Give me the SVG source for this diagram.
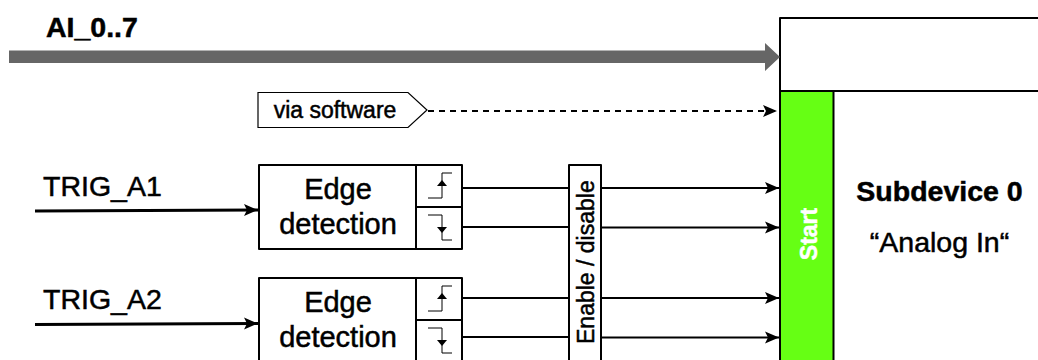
<svg xmlns="http://www.w3.org/2000/svg" width="1038" height="360" viewBox="0 0 1038 360">
<style>
text{font-family:"Liberation Sans",Arial,sans-serif;fill:#000;stroke:#000;stroke-width:.5}
.box{fill:#fff;stroke:#000;stroke-width:2;stroke-linejoin:round}
.wire{fill:none;stroke:#000;stroke-width:2}
.thick{stroke-width:3}
.thin{fill:none;stroke:#000;stroke-width:1}
.lbl{font-size:29px;text-anchor:middle}
</style>
<defs>
<marker id="ah" markerUnits="userSpaceOnUse" markerWidth="16" markerHeight="14" refX="14" refY="7" orient="auto"><path d="M0,1 L14,7 L0,13 L3,7 Z" fill="#000"/></marker>
<g id="rise"><path class="thin" d="M-14,10 H0 V-15 H10"/><path d="M-5,-2 L0,-8 L5,-2 Z" fill="#000"/></g>
<g id="fall"><path class="thin" d="M-14,-12 H0 V13 H10"/><path d="M-5,0 L0,6 L5,0 Z" fill="#000"/></g>
</defs>
<g id="subdevice">
<rect class="box" x="780" y="18" width="270" height="360"/>
<path class="wire" d="M780,91 H1040"/>
<rect x="781" y="92" width="52" height="280" fill="#66ff14"/>
<path class="wire" d="M780,18 V370 M833.500,91 V370"/>
<text x="817" y="234" transform="rotate(-90 817 234)" text-anchor="middle" font-size="23" font-weight="700" style="fill:#fff;stroke:#fff">Start</text>
<text x="939.500" y="200.500" text-anchor="middle" font-size="28.500" font-weight="700">Subdevice 0</text>
<text x="939.500" y="252" text-anchor="middle" font-size="28.500">“Analog In“</text>
</g>
<g id="ai-label"><text x="46" y="37" font-size="28.500" font-weight="700">AI_0..7</text></g>
<g id="trig1-label"><text x="43" y="196" font-size="28.500">TRIG_A1</text></g>
<g id="trig2-label"><text x="43" y="309" font-size="28.500">TRIG_A2</text></g>
<g id="via-software">
<path d="M258,92.500 H408 L427,110 L408,127.500 H258 Z" fill="#fff" stroke="#000" stroke-width="1.200"/>
<text x="335" y="118" text-anchor="middle" font-size="23">via software</text>
</g>
<g id="edge1">
<rect class="box" x="259" y="165" width="203" height="84"/>
<path class="wire" d="M416,165 V249 M416,207 H462"/>
<g transform="translate(442,188)"><use href="#rise"/></g>
<g transform="translate(442,227)"><use href="#fall"/></g>
<text class="lbl" x="338" y="199">Edge</text>
<text class="lbl" x="338" y="233.500">detection</text>
</g>
<g id="edge2">
<rect class="box" x="259" y="278" width="203" height="100"/>
<path class="wire" d="M416,278 V370 M416,320 H462"/>
<g transform="translate(442,301)"><use href="#rise"/></g>
<g transform="translate(442,340)"><use href="#fall"/></g>
<text class="lbl" x="338" y="312">Edge</text>
<text class="lbl" x="338" y="346.500">detection</text>
</g>
<g id="enable">
<rect class="box" x="569" y="165" width="32" height="215"/>
<text x="594" y="344" transform="rotate(-90 594 344)" font-size="23">Enable / disable</text>
</g>
<g id="connectors">
<path d="M9,50.500 H765 V43 L780,57 L765,71 V63 H9 Z" fill="#666"/>
<path d="M428,111 H777" fill="none" stroke="#000" stroke-width="2" stroke-dasharray="6 5" marker-end="url(#ah)"/>
<path class="wire thick" d="M35,211 L258,210" marker-end="url(#ah)"/>
<path class="wire thick" d="M35,324.500 L258,323.500" marker-end="url(#ah)"/>
<path class="wire" d="M462,188 H569"/>
<path class="wire" d="M462,227 H569"/>
<path class="wire" d="M462,298 H569"/>
<path class="wire" d="M462,337 H569"/>
<path class="wire" d="M601,188 H779" marker-end="url(#ah)"/>
<path class="wire" d="M601,227.500 H779" marker-end="url(#ah)"/>
<path class="wire" d="M601,298 H779" marker-end="url(#ah)"/>
<path class="wire" d="M601,337.500 H779" marker-end="url(#ah)"/>
</g>
</svg>
